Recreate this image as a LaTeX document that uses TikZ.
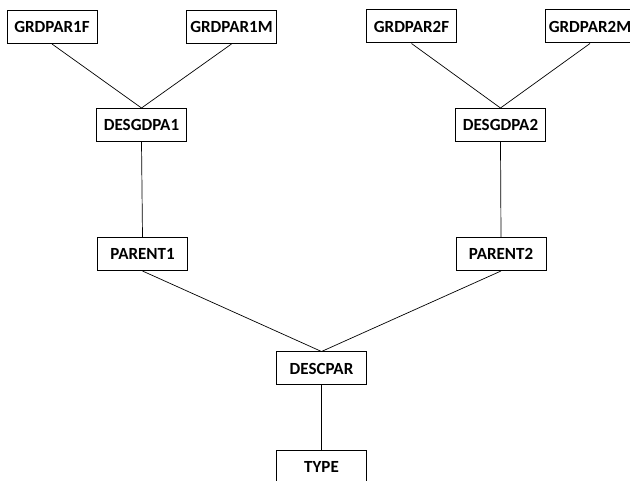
\documentclass[tikz,border=0pt]{standalone}
\usepackage{fontspec}
\setmainfont{Carlito}

\begin{document}
\begin{tikzpicture}[x=1pt,y=-1pt,
    box/.style={draw,line width=1pt,minimum width=90pt,minimum height=33pt,
      inner sep=0pt,font=\bfseries\fontsize{17}{19}\selectfont},
    link/.style={line width=0.7pt}]

    % fix the frame
    \useasboundingbox (0,0) rectangle (630,481);

    % draw boxes
    \node[box] (gp1f) at (52,27) {GRDPAR1F};
    \node[box] (gp1m) at (231.5,27) {GRDPAR1M};
    \node[box] (gp2f) at (411.5,26.5) {GRDPAR2F};
    \node[box] (gp2m) at (590,26.5) {GRDPAR2M};
    \node[box] (dgp1) at (141.5,125) {DESGDPA1};
    \node[box] (dgp2) at (500.5,125) {DESGDPA2};
    \node[box] (par1) at (142.5,254) {PARENT1};
    \node[box] (par2) at (501,254) {PARENT2};
    \node[box] (desc) at (321.5,368.5) {DESCPAR};
    \node[box] (type) at (321.5,466.5) {TYPE};

    % draw links
    \foreach \a/\b in {gp1f/dgp1,gp1m/dgp1,gp2f/dgp2,gp2m/dgp2,
                       dgp1/par1,dgp2/par2,par1/desc,par2/desc,desc/type}
      \draw[link] (\a.south) -- (\b.north);

\end{tikzpicture}
\end{document}
